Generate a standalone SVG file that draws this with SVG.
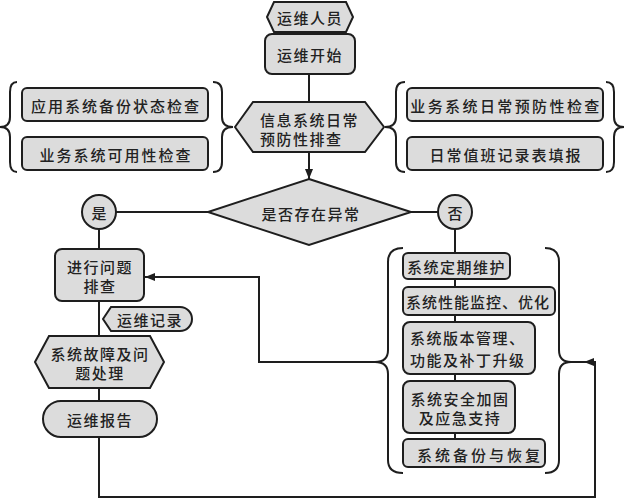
<svg xmlns="http://www.w3.org/2000/svg" width="624" height="500" viewBox="0 0 624 500">
<defs>
<style>
.n{fill:#dcdcdc;stroke:#1e1e1e;stroke-width:2}
.t{font-family:"Noto Sans CJK SC","Noto Sans",sans-serif;font-size:15px;fill:#222;font-weight:500;dominant-baseline:central}
.c{text-anchor:middle}
.l{fill:none;stroke:#1e1e1e;stroke-width:2}
.b{fill:none;stroke:#1e1e1e;stroke-width:2}
</style>
<marker id="ah" viewBox="0 0 10 8" refX="10" refY="4" markerWidth="10" markerHeight="8" markerUnits="userSpaceOnUse" orient="auto">
<path d="M0,0 L10,4 L0,8 Z" fill="#1e1e1e"/>
</marker>
</defs>
<rect width="624" height="500" fill="#fff"/>

<g id="connectors">
<line class="l" x1="309" y1="32" x2="309" y2="34"/>
<line class="l" x1="309" y1="74" x2="309" y2="102"/>
<line class="l" x1="309" y1="152" x2="309" y2="179" marker-end="url(#ah)"/>
<line class="l" x1="116" y1="212" x2="208" y2="212"/>
<line class="l" x1="411" y1="212" x2="438" y2="212"/>
<line class="l" x1="99" y1="229" x2="99" y2="249"/>
<line class="l" x1="99" y1="301" x2="99" y2="336"/>
<line class="l" x1="99" y1="388" x2="99" y2="401"/>
<line class="l" x1="455" y1="229" x2="455" y2="253"/>
<line class="l" x1="455" y1="279" x2="455" y2="287"/>
<line class="l" x1="455" y1="315" x2="455" y2="322"/>
<line class="l" x1="455" y1="374" x2="455" y2="381"/>
<line class="l" x1="455" y1="433" x2="455" y2="439"/>
<path class="l" d="M375,362 H259 V277 H145" marker-end="url(#ah)"/>
<path class="l" d="M99,437 V497 H595 V362 H584" marker-end="url(#ah)"/>
<line class="l" x1="585" y1="362" x2="571" y2="362"/>
</g>

<g id="braces">
<path class="b" d="M17,82 Q10,82 10,92 V117 Q10,127 0,127 Q10,127 10,137 V162 Q10,172 17,172"/>
<path class="b" d="M213,82 Q222,82 222,92 V117 Q222,127 233,127 Q222,127 222,137 V162 Q222,172 213,172"/>
<path class="b" d="M405,82 Q396,82 396,92 V117 Q396,127 385,127 Q396,127 396,137 V162 Q396,172 405,172"/>
<path class="b" d="M606,82 Q614,82 614,92 V117 Q614,127 624,127 Q614,127 614,137 V162 Q614,172 606,172"/>
<path class="b" d="M403,248 Q388,248 388,262 V350 Q388,362 375,362 Q388,362 388,374 V460 Q388,473 403,473"/>
<path class="b" d="M545,248 Q559,248 559,262 V350 Q559,362 571,362 Q559,362 559,374 V460 Q559,473 545,473"/>
</g>

<g id="n-staff">
<polygon class="n" points="267,17 274,2 346,2 353,17 346,32 274,32"/>
<text class="t c" x="310" y="17" letter-spacing="1.5">运维人员</text>
</g>
<g id="n-start">
<rect class="n" x="265" y="34" width="90" height="40" rx="7"/>
<text class="t c" x="310" y="54" letter-spacing="1.5">运维开始</text>
</g>
<g id="n-check">
<polygon class="n" points="235,127 253,102 365,102 384,127 365,152 253,152"/>
<text class="t" x="260" y="119" letter-spacing="1.5">信息系统日常</text>
<text class="t" x="260" y="138" letter-spacing="1.5">预防性排查</text>
</g>
<g id="n-l1">
<rect class="n" x="22" y="88" width="186" height="33" rx="5"/>
<text class="t c" x="116" y="105" letter-spacing="2">应用系统备份状态检查</text>
</g>
<g id="n-l2">
<rect class="n" x="22" y="137" width="186" height="33" rx="5"/>
<text class="t c" x="116" y="154" letter-spacing="2">业务系统可用性检查</text>
</g>
<g id="n-r1">
<rect class="n" x="407" y="88" width="196" height="33" rx="5"/>
<text class="t c" x="506" y="105" letter-spacing="2.4">业务系统日常预防性检查</text>
</g>
<g id="n-r2">
<rect class="n" x="407" y="137" width="196" height="33" rx="5"/>
<text class="t c" x="506" y="154" letter-spacing="2">日常值班记录表填报</text>
</g>
<g id="n-decision">
<polygon class="n" points="309,179 411,212 309,245 208,212"/>
<text class="t c" x="311" y="213" letter-spacing="1.5">是否存在异常</text>
</g>
<g id="n-yes">
<circle class="n" cx="99" cy="212" r="17"/>
<text class="t c" x="99" y="212">是</text>
</g>
<g id="n-no">
<circle class="n" cx="455" cy="212" r="17"/>
<text class="t c" x="455" y="212">否</text>
</g>
<g id="n-investigate">
<rect class="n" x="55" y="249" width="89" height="52" rx="7"/>
<text class="t c" x="100" y="266" letter-spacing="1.5">进行问题</text>
<text class="t c" x="100" y="285" letter-spacing="1.5">排查</text>
</g>
<g id="n-record">
<path class="n" d="M103,319 L111,307 H180 A12,12 0 0 1 180,331 H111 Z"/>
<text class="t c" x="150" y="319" letter-spacing="1.5">运维记录</text>
</g>
<g id="n-fault">
<polygon class="n" points="35,362 49,336 150,336 164,362 150,388 49,388"/>
<text class="t c" x="100" y="353" letter-spacing="1.5">系统故障及问</text>
<text class="t c" x="100" y="372" letter-spacing="1.5">题处理</text>
</g>
<g id="n-report">
<rect class="n" x="43" y="401" width="114" height="36" rx="18"/>
<text class="t c" x="100" y="419" letter-spacing="1.5">运维报告</text>
</g>
<g id="n-m1">
<rect class="n" x="403" y="253" width="107" height="26" rx="5"/>
<text class="t" x="407" y="266" letter-spacing="1.5">系统定期维护</text>
</g>
<g id="n-m2">
<rect class="n" x="403" y="287" width="152" height="28" rx="5"/>
<text class="t" x="406" y="301" letter-spacing="1">系统性能监控、优化</text>
</g>
<g id="n-m3">
<rect class="n" x="403" y="322" width="132" height="52" rx="7"/>
<text class="t" x="410" y="337" letter-spacing="1.5">系统版本管理、</text>
<text class="t" x="410" y="359" letter-spacing="1.5">功能及补丁升级</text>
</g>
<g id="n-m4">
<rect class="n" x="403" y="381" width="112" height="52" rx="7"/>
<text class="t c" x="460" y="398" letter-spacing="1.5">系统安全加固</text>
<text class="t c" x="460" y="417" letter-spacing="1.5">及应急支持</text>
</g>
<g id="n-m5">
<rect class="n" x="403" y="439" width="142" height="28" rx="5"/>
<text class="t c" x="480" y="454" letter-spacing="3">系统备份与恢复</text>
</g>
</svg>
